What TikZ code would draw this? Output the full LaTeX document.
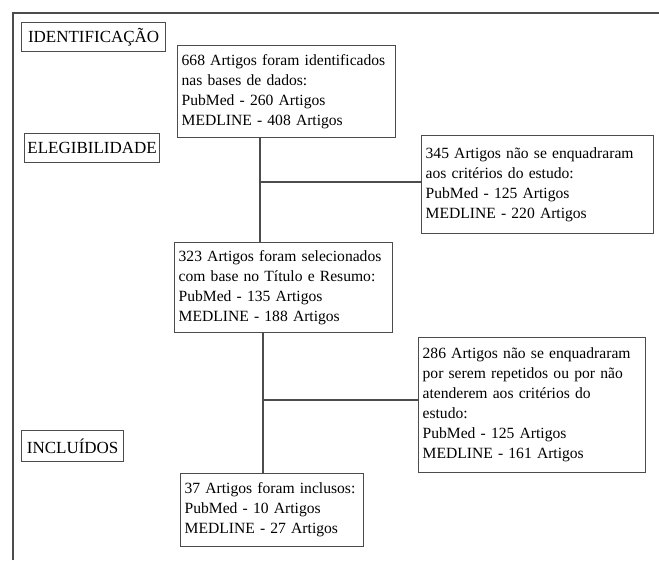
\documentclass[tikz,border=0pt]{standalone}
\usepackage{fontspec}
\setmainfont{Liberation Serif}
\usepackage{tikz}

\begin{document}
\begin{tikzpicture}[x=1pt,y=-1pt]

\tikzset{caixa/.style = {shape=rectangle,draw=black!70,line width=1.3pt,anchor=north west,align=left,inner xsep=4pt,inner ysep=0pt,font={\fontsize{15.6}{20}\selectfont\hyphenpenalty=10000\relax}}}
\tikzset{fase/.style = {caixa,align=center,inner xsep=2pt,font={\fontsize{17}{20}\selectfont}}}
\tikzset{ligacao/.style = {draw=black!70,line width=1.3pt}}

\useasboundingbox (0,0) rectangle (659,560);
\draw[ligacao] (13,560) |- (659,13);

% fases
\node[fase,minimum width=144pt,minimum height=29pt] (ident) at (21,22) {IDENTIFICAÇÃO};
\node[fase,minimum width=135pt,minimum height=29pt] (eleg) at (24,133) {ELEGIBILIDADE};
\node[fase,minimum width=102pt,minimum height=31pt] (incl) at (21,430) {INCLUÍDOS};

% caixas
\node[caixa,text width=210pt,minimum height=92pt] (c668) at (177,45) {668 Artigos foram identificados\\nas bases de dados:\\PubMed - 260 Artigos\\MEDLINE - 408 Artigos};
\node[caixa,text width=224pt,minimum height=98pt] (c345) at (421,135) {345 Artigos não se enquadraram\\aos critérios do estudo:\\PubMed - 125 Artigos\\MEDLINE - 220 Artigos};
\node[caixa,text width=210pt,minimum height=90pt] (c323) at (174,242) {323 Artigos foram selecionados\\com base no Título e Resumo:\\PubMed - 135 Artigos\\MEDLINE - 188 Artigos};
\node[caixa,text width=219pt,minimum height=135pt] (c286) at (418,337) {286 Artigos não se enquadraram\\por serem repetidos ou por não\\atenderem aos critérios do\\estudo:\\PubMed - 125 Artigos\\MEDLINE - 161 Artigos};
\node[caixa,text width=175pt,minimum height=73pt] (c37) at (180,473) {37 Artigos foram inclusos:\\PubMed - 10 Artigos\\MEDLINE - 27 Artigos};

\coordinate (j1) at (260,182);
\coordinate (j2) at (263,400);

%edges
\draw[ligacao] (c668.south -| j1) -- (c323.north -| j1);
\draw[ligacao] (j1) -- (c345.west |- j1);
\draw[ligacao] (c323.south -| j2) -- (c37.north -| j2);
\draw[ligacao] (j2) -- (c286.west |- j2);
\end{tikzpicture}
\end{document}
